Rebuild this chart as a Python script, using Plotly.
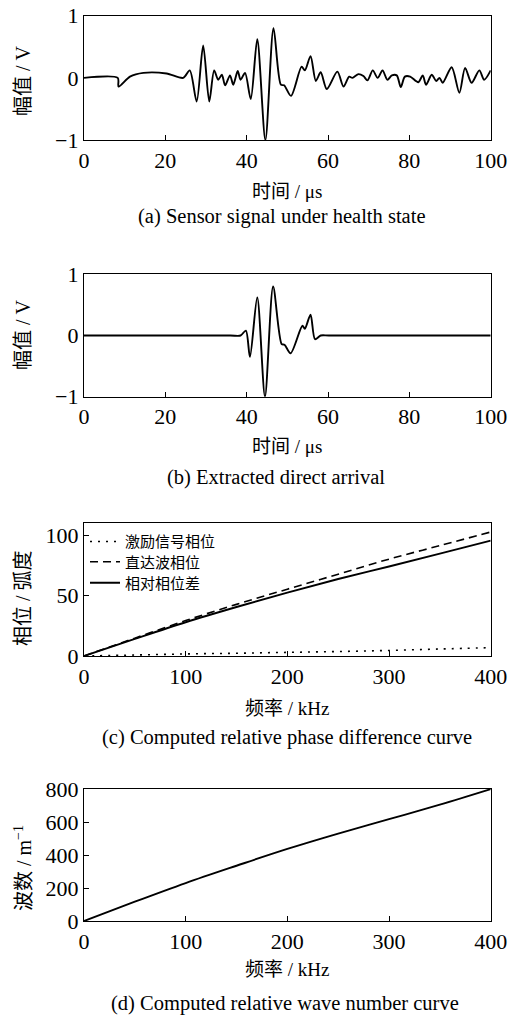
import plotly.graph_objects as go

# ---------------- data ----------------
# (a) sensor signal under health state
t_a = [0, 8.3, 8.5, 11.3, 14.6, 20.3, 24.4, 26.0, 27.7, 29.3, 30.8, 32.0, 33.0, 33.9,
       34.7, 35.9, 36.7, 37.8, 38.5, 39.6, 41.0, 42.6, 44.6, 46.6, 48.4, 49.2, 50.9,
       53.5, 54.3, 55.7, 57.0, 58.2, 59.7, 62.3, 63.8, 65.2, 66.0, 67.5, 68.7, 69.7,
       71.0, 72.2, 73.4, 74.6, 75.7, 76.9, 77.9, 78.9, 80.2, 82.2, 83.3, 84.1, 85.5,
       86.6, 87.4, 88.2, 90.4, 92.3, 93.7, 95.3, 97.2, 98.4, 100]
v_a = [0, 0, -0.14, 0.02, 0.08, 0.07, 0.0, 0.12, -0.38, 0.52, -0.38, 0.12, -0.03, 0.05,
       -0.12, 0.04, -0.11, 0.11, -0.03, 0.08, -0.34, 0.62, -1.0, 0.80, -0.11, -0.12, -0.29,
       0.18, 0.12, 0.35, -0.05, 0.09, -0.18, 0.10, -0.14, 0.02, 0.0, 0.06, 0.03, -0.04,
       0.12, 0.0, 0.12, -0.03, 0.04, 0.04, -0.15, 0.02, 0.02, -0.07, 0.04, -0.11, 0.05,
       -0.05, 0.0, -0.08, 0.17, -0.24, 0.16, -0.08, 0.12, -0.03, 0.12]

# (b) extracted direct arrival
t_b = [0, 36.0, 38.5, 39.8, 40.8, 42.6, 44.5, 46.5, 48.6, 49.3, 50.8, 53.7, 54.3, 55.7,
       56.8, 58.2, 60.2, 100]
v_b = [0, 0, 0.0, 0.08, -0.35, 0.62, -1.0, 0.80, -0.14, -0.15, -0.29, 0.16, 0.11, 0.34,
       -0.06, 0.0, 0.0, 0]

# (c) phase curves
f_c = [0, 50, 100, 150, 200, 250, 300, 350, 400]
phase_excite = [0, 0.8, 1.7, 2.3, 3.0, 3.7, 4.6, 5.8, 6.9]
phase_direct = [0, 14.8, 29.4, 42.8, 55.4, 67.8, 80.3, 91.5, 102.8]
phase_diff = [0, 14.2, 28.0, 40.6, 52.6, 63.8, 74.2, 84.8, 95.6]

# (d) wave number
f_d = [0, 50, 100, 150, 200, 250, 300, 350, 400]
wavenum = [0, 117, 230, 335, 437, 530, 617, 705, 799]

names_c = ["激励信号相位", "直达波相位", "相对相位差"]

# ---------------- layout helpers ----------------
W, H = 526, 1016
FONT = "Liberation Serif, Times New Roman, Noto Sans CJK SC"
CJK = "Noto Sans CJK SC, Liberation Serif"


def py(px):
    return 1 - px / H


xdom = [84 / W, 490.7 / W]
ydoms = [[py(140), py(15.7)], [py(396.7), py(274.3)], [py(656), py(523.3)], [py(921), py(789)]]

fig = go.Figure()
line_kw = dict(color="black", width=1.9)
fig.add_trace(go.Scatter(x=t_a, y=v_a, mode="lines", line=dict(**line_kw, shape="spline", smoothing=0.8),
                         xaxis="x", yaxis="y", showlegend=False))
fig.add_trace(go.Scatter(x=t_b, y=v_b, mode="lines", line=dict(**line_kw, shape="spline", smoothing=0.8),
                         xaxis="x2", yaxis="y2", showlegend=False))
fig.add_trace(go.Scatter(x=f_c, y=phase_excite, mode="lines", name=names_c[0], legend="legend",
                         line=dict(color="black", width=1.6, dash="2px,6px", shape="spline"),
                         xaxis="x3", yaxis="y3"))
fig.add_trace(go.Scatter(x=f_c, y=phase_direct, mode="lines", name=names_c[1], legend="legend2",
                         line=dict(color="black", width=1.6, dash="8px,5px", shape="spline"),
                         xaxis="x3", yaxis="y3"))
fig.add_trace(go.Scatter(x=f_c, y=phase_diff, mode="lines", name=names_c[2], legend="legend3",
                         line=dict(color="black", width=1.9, shape="spline"),
                         xaxis="x3", yaxis="y3"))
fig.add_trace(go.Scatter(x=f_d, y=wavenum, mode="lines", line=dict(**line_kw, shape="spline"),
                         xaxis="x4", yaxis="y4", showlegend=False))

axis_common = dict(showline=True, mirror=True, linecolor="black", linewidth=1.4,
                   ticks="inside", ticklen=5, tickwidth=1.4, tickcolor="black",
                   showgrid=False, zeroline=False, automargin=False,
                   tickfont=dict(family=FONT, size=22, color="black"))

xcfg = [([0, 100], [0, 20, 40, 60, 80, 100]), ([0, 100], [0, 20, 40, 60, 80, 100]),
        ([0, 400], [0, 100, 200, 300, 400]), ([0, 400], [0, 100, 200, 300, 400])]
ycfg = [([-1, 1], [-1, 0, 1]), ([-1, 1], [-1, 0, 1]), ([0, 110], [0, 50, 100]),
        ([0, 800], [0, 200, 400, 600, 800])]

lay = {}
for i in range(4):
    s = "" if i == 0 else str(i + 1)
    lay["xaxis" + s] = dict(domain=xdom, range=xcfg[i][0], tickvals=xcfg[i][1],
                            anchor="y" + s, **axis_common)
    lay["yaxis" + s] = dict(domain=ydoms[i], range=ycfg[i][0], tickvals=ycfg[i][1],
                            anchor="x" + s, **axis_common)

annots = []
xt = [("时间 / μs", 191), ("时间 / μs", 446), ("频率 / kHz", 708), ("频率 / kHz", 969)]
caps = [("(a) Sensor signal under health state", 281, 216.5),
        ("(b) Extracted direct arrival", 276, 477),
        ("(c) Computed relative phase difference curve", 287, 737),
        ("(d) Computed relative wave number curve", 285, 1003)]
yt = [("幅值 / V", 81), ("幅值 / V", 335), ("相位 / 弧度", 598), ("波数 / m<sup>−1</sup>", 868)]
for txt, y in xt:
    annots.append(dict(text=txt, x=287 / W, y=py(y), xref="paper", yref="paper",
                       xanchor="center", yanchor="middle", showarrow=False,
                       font=dict(family=FONT, size=19, color="black")))
for txt, x, y in caps:
    annots.append(dict(text=txt, x=x / W, y=py(y), xref="paper", yref="paper",
                       xanchor="center", yanchor="middle", showarrow=False,
                       font=dict(family=FONT, size=20.5, color="black")))
for txt, y in yt:
    annots.append(dict(text=txt, x=23 / W, y=py(y), xref="paper", yref="paper",
                       xanchor="center", yanchor="middle", showarrow=False, textangle=-90,
                       font=dict(family=FONT, size=20, color="black")))

leg_common = dict(x=85 / W, xanchor="left", yanchor="middle", bgcolor="rgba(0,0,0,0)",
                  font=dict(family=CJK, size=15, color="black"), itemwidth=30)

fig.update_layout(
    width=W, height=H, margin=dict(l=0, r=0, t=0, b=0, pad=0, autoexpand=False),
    plot_bgcolor="white", paper_bgcolor="white",
    annotations=annots,
    legend=dict(y=py(541.7), **leg_common),
    legend2=dict(y=py(562), **leg_common),
    legend3=dict(y=py(583), **leg_common),
    **lay,
)

fig.write_html("out.html", config={"displayModeBar": False},
               post_script="document.body.style.margin='0px';")
